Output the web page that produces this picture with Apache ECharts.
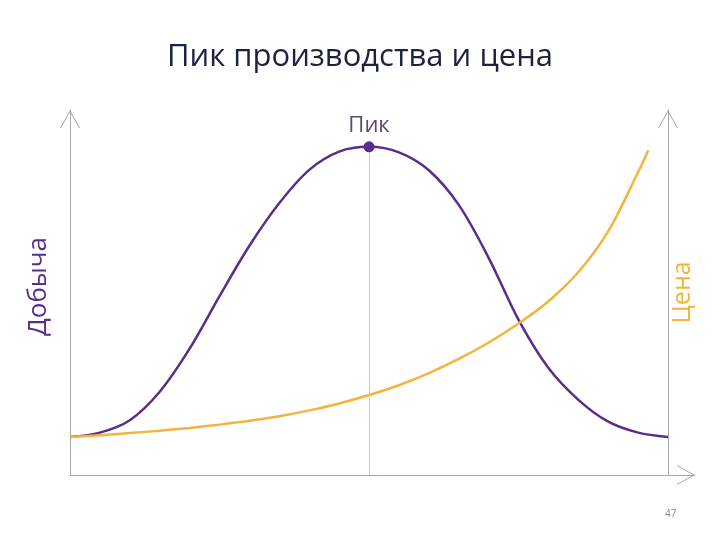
<!DOCTYPE html>
<html>
<head>
<meta charset="utf-8">
<script src="https://cdn.jsdelivr.net/npm/echarts@6/dist/echarts.min.js"></script>
<style>
html, body { margin: 0; padding: 0; background: #fff; }
#chart { width: 720px; height: 540px; }
</style>
</head>
<body>
<div id="chart"></div>
<script>
// кривая добычи (колокол) и цены
var prodX = [0, 5, 10, 15, 20, 25, 30, 35, 40, 45, 50, 55, 60, 65, 70, 75, 80, 85, 90, 95, 100];
var production = [10.4, 11.6, 15, 22.8, 34.6, 49, 62.8, 74.5, 83.6, 88.6, 89.9, 88.4, 83.5, 74, 59.5, 42.5, 29.3, 20.6, 14.6, 11.6, 10.4];
var priceX = [0, 5, 10, 15, 20, 25, 30, 35, 40, 45, 50, 55, 60, 65, 70, 75, 80, 85, 90, 95, 96.7];
var price = [10.4, 10.9, 11.5, 12.15, 12.9, 13.8, 14.85, 16.1, 17.7, 19.6, 21.9, 24.6, 27.9, 31.8, 36.3, 41.5, 47.6, 55.6, 66.8, 83, 89];
var peakIdx = 10;
var peakLabel = 'Пик';

var purple = '#5a2d8c';
var orange = '#f2b43c';
var axisGray = '#a8a8a8';
var chevron = 'path://M0,18 L10,0 L20,18 L18.9,18 L10,2 L1.1,18 Z';

function pairs(xs, ys) {
	var out = [];
	for(var i = 0; i < xs.length; i++) {
		out.push([xs[i], ys[i]]);
	}
	return out;
}

var axisLine = {
	show: true,
	symbol: ['none', chevron],
	symbolSize: [20, 18],
	symbolOffset: [0, -9],
	lineStyle: { color: axisGray, width: 1 }
};

var option = {
	animation: false,
	backgroundColor: '#fff',
	title: {
		text: 'Пик производства и цена',
		left: 'center',
		top: 37,
		textStyle: {
			fontFamily: 'Open Sans',
			fontSize: 31,
			fontWeight: 'normal',
			color: '#1c2340'
		}
	},
	grid: { left: 70, right: 25, top: 110, bottom: 65 },
	xAxis: {
		type: 'value',
		min: 0,
		max: 104.5,
		axisLine: axisLine,
		axisTick: { show: false },
		axisLabel: { show: false },
		splitLine: { show: false }
	},
	yAxis: [{
		type: 'value',
		min: 0,
		max: 100,
		name: 'Добыча',
		nameLocation: 'middle',
		nameRotate: 90,
		nameGap: 18,
		nameTextStyle: { color: purple, fontSize: 26, fontFamily: 'Open Sans', padding: [0, 0, 0, 12] },
		axisLine: axisLine,
		axisTick: { show: false },
		axisLabel: { show: false },
		splitLine: { show: false }
	}, {
		type: 'value',
		position: 'right',
		offset: -27,
		min: 0,
		max: 100,
		name: 'Цена',
		nameLocation: 'middle',
		nameRotate: 90,
		nameGap: 2,
		nameTextStyle: { color: orange, fontSize: 25, fontFamily: 'Open Sans' },
		axisLine: axisLine,
		axisTick: { show: false },
		axisLabel: { show: false },
		splitLine: { show: false }
	}],
	series: [{
		name: 'Добыча',
		type: 'line',
		smooth: 0.33,
		showSymbol: false,
		z: 3,
		data: pairs(prodX, production),
		lineStyle: { color: purple, width: 2.5 },
		markLine: {
			silent: true,
			symbol: 'none',
			label: { show: false },
			lineStyle: { color: '#c8c8c8', width: 1, type: 'solid' },
			data: [[{ coord: [prodX[peakIdx], 0] }, { coord: [prodX[peakIdx], production[peakIdx]] }]]
		},
		markPoint: {
			symbol: 'circle',
			symbolSize: 11,
			itemStyle: { color: purple },
			label: {
				show: true,
				position: 'top',
				distance: 5,
				formatter: peakLabel,
				color: '#5b4a70',
				fontSize: 22,
				fontFamily: 'Open Sans'
			},
			data: [{ coord: [prodX[peakIdx], production[peakIdx]] }]
		}
	}, {
		name: 'Цена',
		type: 'line',
		yAxisIndex: 1,
		smooth: 0.33,
		showSymbol: false,
		z: 4,
		data: pairs(priceX, price),
		lineStyle: { color: orange, width: 2.5 }
	}],
	graphic: [{
		type: 'text',
		left: 665,
		top: 509,
		style: { text: '47', fill: '#8a8a8a', fontSize: 10, fontFamily: 'Open Sans' }
	}]
};

var chart = echarts.init(document.getElementById('chart'));
chart.setOption(option);
</script>
</body>
</html>
